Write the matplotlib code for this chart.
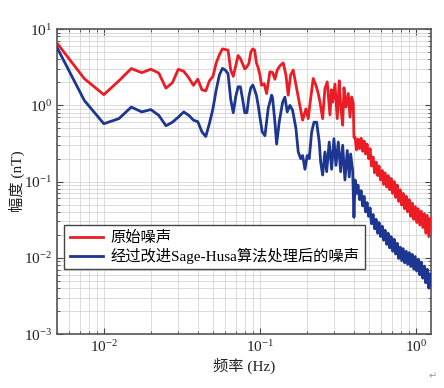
import matplotlib
matplotlib.use('Agg')
import matplotlib.pyplot as plt
import numpy as np

# ---------------- data ----------------
# low-frequency part (shared frequency grid, Hz)
freq_low = [0.005, 0.0075, 0.01, 0.0125, 0.015, 0.0175, 0.02, 0.0225, 0.025, 0.0275,
            0.03, 0.0325, 0.035, 0.0375, 0.04, 0.0425, 0.045, 0.0475, 0.05, 0.0525,
            0.055, 0.0575, 0.06, 0.0625, 0.065, 0.0675, 0.07, 0.0725, 0.075, 0.0775,
            0.08, 0.0825, 0.085, 0.0875, 0.09, 0.0925, 0.095, 0.0975, 0.1]
red_low = [6.6, 2.24, 1.38, 2.1, 3.04, 2.68, 2.98, 2.65, 1.68, 1.98,
           2.97, 2.8, 2.3, 1.83, 2.2, 1.6, 1.55, 2.1, 2.4, 3.6,
           4.6, 5.5, 5.4, 5.3, 2.9, 2.4, 3.3, 4.5, 4.1, 3.5,
           3.0, 3.2, 3.55, 5.0, 5.5, 5.3, 3.6, 3.1, 2.5]
blue_low = [5.8, 1.16, 0.574, 0.67, 0.95, 0.82, 0.88, 0.74, 0.54, 0.60,
            0.70, 0.82, 0.74, 0.64, 0.61, 0.45, 0.39, 0.58, 0.9, 1.6,
            2.5, 3.05, 2.9, 2.6, 1.2, 0.8, 1.3, 1.75, 1.75, 1.2,
            0.8, 0.8, 1.3, 1.7, 1.85, 1.6, 1.35, 1.0, 0.70]

# mid-frequency part
freq_red_mid = [0.1025, 0.1065, 0.1104, 0.1159, 0.1206, 0.1248, 0.1291, 0.1343, 0.1411, 0.1468,
                0.1518, 0.1573, 0.1635, 0.172, 0.1803, 0.1878, 0.1972, 0.2039, 0.2113, 0.2196,
                0.2286, 0.2364, 0.2425, 0.2523, 0.261, 0.27, 0.281, 0.2872, 0.2924, 0.3026,
                0.313, 0.3224, 0.329, 0.339, 0.3455, 0.3558, 0.368, 0.378, 0.3871, 0.3964, 0.4005]
red_mid = [1.83, 1.92, 1.43, 2.75, 2.7, 2.2, 2.9, 3.3, 3.6, 2.5,
           1.36, 2.5, 2.9, 1.65, 1.0, 0.64, 0.9, 0.67, 1.22, 2.25,
           1.83, 1.43, 1.11, 0.67, 1.66, 2.03, 0.75, 1.6, 1.1, 1.9,
           0.67, 2.1, 1.0, 0.55, 1.7, 0.95, 1.43, 0.7, 1.29, 1.05, 0.38]

freq_blue_mid = [0.1034, 0.1077, 0.113, 0.1189, 0.1206, 0.1248, 0.128, 0.1329, 0.1398, 0.1446,
                 0.1496, 0.1557, 0.162, 0.1701, 0.176, 0.1824, 0.1878, 0.1943, 0.201, 0.207,
                 0.2145, 0.222, 0.231, 0.240, 0.245, 0.2523, 0.261, 0.2677, 0.278, 0.288,
                 0.298, 0.307, 0.3178, 0.329, 0.339, 0.3506, 0.3627, 0.3736, 0.3814, 0.3928, 0.4005]
blue_mid = [0.45, 0.40, 0.91, 1.36, 1.24, 0.6, 0.31, 0.6, 1.1, 1.28,
            0.82, 1.0, 0.86, 0.5, 0.245, 0.2, 0.22, 0.145, 0.22, 0.2,
            0.445, 0.6, 0.6, 0.33, 0.18, 0.122, 0.245, 0.135, 0.33, 0.145,
            0.365, 0.163, 0.33, 0.135, 0.30, 0.105, 0.256, 0.115, 0.23, 0.14, 0.034]

# high-frequency part (shared frequency list, Hz)
freq_high = [0.407, 0.416, 0.425, 0.435, 0.445, 0.455, 0.465, 0.475, 0.486, 0.497,
             0.508, 0.519, 0.531, 0.543, 0.555, 0.568, 0.580, 0.593, 0.607, 0.620,
             0.634, 0.649, 0.663, 0.678, 0.693, 0.709, 0.725, 0.741, 0.758, 0.775,
             0.792, 0.810, 0.828, 0.847, 0.866, 0.885, 0.905, 0.925, 0.946, 0.967,
             0.989, 1.011, 1.034, 1.057, 1.081, 1.105, 1.130, 1.155, 1.181, 1.208,
             1.235, 1.25]
red_high = [0.38, 0.26, 0.36, 0.27, 0.37, 0.25, 0.34, 0.23, 0.31, 0.20,
            0.27, 0.16, 0.21, 0.13, 0.18, 0.12, 0.16, 0.105, 0.14, 0.092,
            0.13, 0.085, 0.12, 0.078, 0.11, 0.07, 0.10, 0.062, 0.09, 0.055,
            0.078, 0.049, 0.07, 0.044, 0.064, 0.040, 0.058, 0.035, 0.052, 0.032,
            0.047, 0.029, 0.044, 0.027, 0.041, 0.025, 0.038, 0.021, 0.036, 0.019,
            0.033, 0.023]
blue_high = [0.105, 0.07, 0.09, 0.058, 0.076, 0.048, 0.064, 0.040, 0.053, 0.035,
             0.045, 0.028, 0.037, 0.024, 0.032, 0.021, 0.029, 0.019, 0.026, 0.017,
             0.023, 0.015, 0.021, 0.0135, 0.019, 0.0122, 0.0175, 0.0112, 0.0155, 0.0098,
             0.0138, 0.0092, 0.0132, 0.0086, 0.0122, 0.0082, 0.0117, 0.0077, 0.0111, 0.0071,
             0.0104, 0.0067, 0.0096, 0.0060, 0.0088, 0.0054, 0.0078, 0.0047, 0.0071, 0.0040,
             0.0062, 0.0044]

label_red = '原始噪声'
label_blue = '经过改进Sage-Husa算法处理后的噪声'
xlabel = '频率 (Hz)'
ylabel = '幅度 (nT)'

# ---------------- plot ----------------
plt.rcParams['mathtext.fontset'] = 'stix'
plt.rcParams['font.family'] = ['Liberation Serif', 'Noto Sans CJK SC']

fig = plt.figure(figsize=(4.44, 3.88), dpi=100)
ax = fig.add_axes([0.128, 0.139, 0.843, 0.786])

f_red = np.array(freq_low + freq_red_mid + freq_high)
a_red = np.array(red_low + red_mid + red_high)
f_blue = np.array(freq_low + freq_blue_mid + freq_high)
a_blue = np.array(blue_low + blue_mid + blue_high)

ax.plot(f_red, a_red, color='#ec1c24', lw=2.0, label=label_red, zorder=3)
ax.plot(f_blue, a_blue, color='#1c3692', lw=2.0, label=label_blue, zorder=4)
ax.set_xscale('log')
ax.set_yscale('log')
ax.set_xlim(0.005, 1.25)
ax.set_ylim(1e-3, 10)

ax.grid(True, which='both', color='#d4d4d4', lw=0.6, zorder=0)
ax.set_axisbelow(True)
ax.tick_params(which='both', direction='in', top=True, right=True,
               colors='#444444', labelcolor='#222222', labelsize=11)
ax.tick_params(which='major', length=4)
ax.tick_params(which='minor', length=2)
for s in ax.spines.values():
    s.set_color('#555555')
    s.set_linewidth(1.2)

ax.set_xlabel(xlabel, fontsize=11, color='#222222', labelpad=2)
ax.set_ylabel(ylabel, fontsize=11, color='#222222', labelpad=-1)

leg = ax.legend(loc='upper left', bbox_to_anchor=(0.02, 0.357), borderaxespad=0,
                fancybox=False, edgecolor='#444444', framealpha=1, fontsize=11,
                handlelength=2.2, handletextpad=0.5, borderpad=0.35, labelspacing=0.2)
leg.get_frame().set_linewidth(1.0)

fig.text(0.975, 0.03, '↵', fontsize=7, color='#999999', family='DejaVu Sans',
         ha='center', va='center')

fig.savefig('out.png', dpi=100)
